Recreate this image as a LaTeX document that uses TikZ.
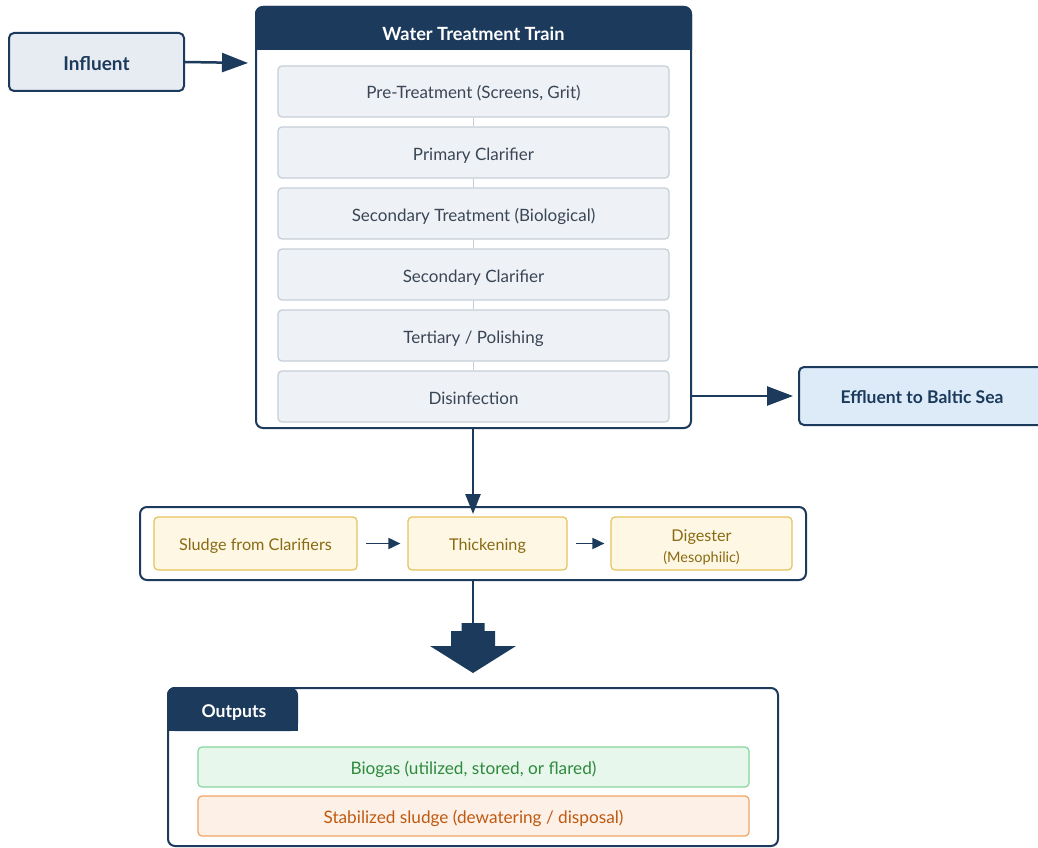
\documentclass[tikz,border=0pt]{standalone}
\usepackage{fontspec}
\setmainfont{Lato}
\usetikzlibrary{arrows.meta}
\definecolor{navy}{HTML}{1C3A5C}
\definecolor{stepfill}{HTML}{EEF2F7}
\definecolor{stepdraw}{HTML}{C5CED8}
\definecolor{steptext}{HTML}{3A4654}
\definecolor{influentfill}{HTML}{E6ECF2}
\definecolor{effluentfill}{HTML}{DDEBF8}
\definecolor{sludgefill}{HTML}{FDF7E4}
\definecolor{sludgedraw}{HTML}{E6C35C}
\definecolor{sludgetext}{HTML}{8A6A12}
\definecolor{gasfill}{HTML}{E8F7EC}
\definecolor{gasdraw}{HTML}{86D69E}
\definecolor{gastext}{HTML}{2F8A3E}
\definecolor{solfill}{HTML}{FDF0E6}
\definecolor{soldraw}{HTML}{F0A564}
\definecolor{soltext}{HTML}{BF5A12}
\newcommand{\fs}[1]{\fontsize{#1}{#1}\selectfont}
\tikzset{
  endbox/.style={draw=navy, line width=2pt, rounded corners=5pt, inner sep=0pt},
  stepbox/.style={draw=stepdraw, line width=1.2pt, fill=stepfill, rounded corners=4pt, text=steptext, font=\fs{17}, minimum width=391pt, minimum height=51pt, inner sep=0pt, text height=15pt, text depth=0pt},
  sludgebox/.style={draw=sludgedraw, line width=1.2pt, fill=sludgefill, rounded corners=4pt, text=sludgetext, font=\fs{16.2}, minimum height=53pt, inner sep=0pt, text height=14.6pt, text depth=0pt},
  outbox/.style={line width=1.2pt, rounded corners=4pt, font=\fs{17.2}, minimum width=551pt, minimum height=40pt, inner sep=0pt, text height=14.4pt, text depth=0pt},
  container/.style={draw=navy, line width=2pt, rounded corners=7pt, fill=white},
  flow/.style={navy, line width=2.5pt, -{Triangle[length=26pt,width=19pt]}},
  link/.style={stepdraw, line width=1.2pt},
  small/.style={navy, line width=1.8pt, -{Triangle[length=12pt,width=11pt]}}
}
\begin{document}
\begin{tikzpicture}[x=1pt,y=-1pt]
\clip (0,0) rectangle (1038,848);
\fill[white] (0,0) rectangle (1038,848);

% Influent
\node[endbox, fill=influentfill, minimum width=175pt, minimum height=58pt] (inf) at (96.5,62) {};
\node[text=navy, font=\fs{19}\bfseries] (inftext) at (96.5,64) {Influent};

% Train container
\draw[container] (256,7) rectangle (691,428);
\fill[navy, rounded corners=7pt] (256,7) -- (691,7) -- (691,50) -- (256,50) -- cycle;
\fill[navy] (256,30) rectangle (691,50);
\draw[navy, line width=2pt, rounded corners=7pt] (256,50) -- (256,7) -- (691,7) -- (691,50);
\node[text=white, font=\fs{18.2}\bfseries] (title) at (473.5,34) {Water Treatment Train};
\coordinate (trainW) at (256,63);
\coordinate (trainE) at (691,396);
\coordinate (trainS) at (473,428);

\node[stepbox] (s1) at (473.5,91.5) {Pre-Treatment (Screens, Grit)};
\node[stepbox] (s2) at (473.5,152.5) {Primary Clarifier};
\node[stepbox] (s3) at (473.5,213.5) {Secondary Treatment (Biological)};
\node[stepbox] (s4) at (473.5,274.5) {Secondary Clarifier};
\node[stepbox] (s5) at (473.5,335.5) {Tertiary / Polishing};
\node[stepbox] (s6) at (473.5,396.5) {Disinfection};
\draw[link] (s1) -- (s2);
\draw[link] (s2) -- (s3);
\draw[link] (s3) -- (s4);
\draw[link] (s4) -- (s5);
\draw[link] (s5) -- (s6);

% Influent arrow
\draw[flow] (inf.east) -- ([xshift=-8pt]trainW);

% Effluent
\node[endbox, fill=effluentfill, minimum width=250pt, minimum height=58pt, anchor=west] (eff) at (798,396) {};
\node[text=navy, font=\fs{17.5}\bfseries] (efftext) at (922,397) {Effluent to Baltic Sea};
\draw[flow] (trainE) -- ([xshift=-5pt]eff.west);

% Sludge container
\draw[container] (140,507) rectangle (806,580);
\coordinate (sludgeN) at (473,507);
\coordinate (sludgeS) at (473,580);
\draw[navy, line width=2.5pt, -{Triangle[length=20pt,width=15pt]}] (trainS) -- ([yshift=-7pt]sludgeN);

\node[sludgebox, minimum width=203pt] (sl1) at (255.5,543.5) {Sludge from Clarifiers};
\node[sludgebox, minimum width=159pt] (sl2) at (487.5,543.5) {Thickening};
\node[sludgebox, minimum width=181pt] (sl3) at (701.5,543.5) {};
\node[text=sludgetext, font=\fs{16.2}, align=center] (sl3text) at (701.5,547.5) {Digester\\[5pt]{\fs{14.5}(Mesophilic)}};
\draw[small] ([xshift=8pt]sl1.east) -- ([xshift=-7pt]sl2.west);
\draw[small] ([xshift=8pt]sl2.east) -- ([xshift=-6pt]sl3.west);

% Big stepped arrow
\coordinate (bigtop) at (473,623);
\draw[navy, line width=2.5pt] (sludgeS) -- (bigtop);
\fill[navy] (461.5,623) -- (484.5,623) -- (484.5,631) -- (495,631) -- (495,646) -- (516,646) -- (473,673) -- (430,646) -- (451,646) -- (451,631) -- (461.5,631) -- cycle;

% Outputs
\draw[container] (168,688) rectangle (778,846);
\fill[navy, rounded corners=7pt] (168,731) -- (168,688) -- (298,688) -- (298,731) -- cycle;
\fill[navy] (168,715) rectangle (298,731);
\draw[navy, line width=2pt, rounded corners=7pt] (168,731) -- (168,688) -- (298,688);
\node[text=white, font=\fs{17.6}\bfseries] (outtitle) at (234,713) {Outputs};
\node[outbox, draw=gasdraw, fill=gasfill, text=gastext] (gas) at (473.5,767) {Biogas (utilized, stored, or flared)};
\node[outbox, draw=soldraw, fill=solfill, text=soltext] (sol) at (473.5,816) {Stabilized sludge (dewatering / disposal)};
\end{tikzpicture}
\end{document}
